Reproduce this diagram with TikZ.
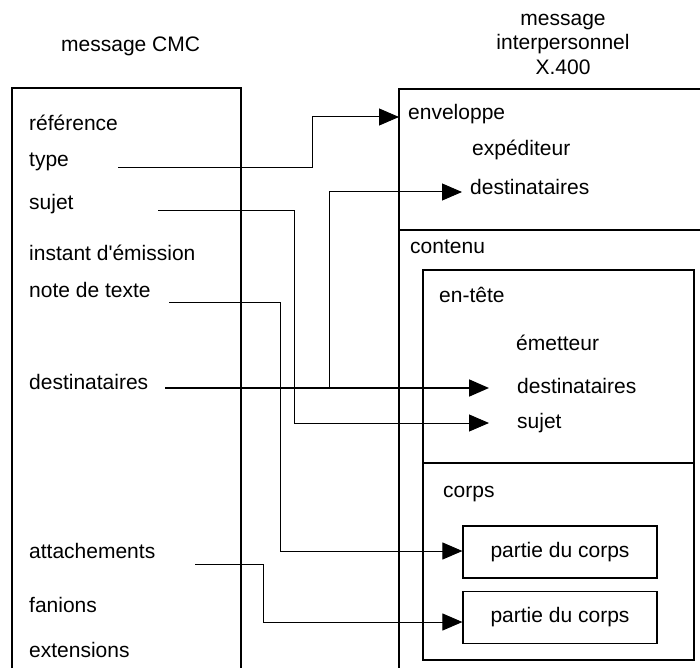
\documentclass[tikz,border=0pt]{standalone}
\usepackage{fontspec}
% a family without TeX input ligatures, so ' stays a straight apostrophe
\newfontfamily\labelfont{Liberation Sans}
\usetikzlibrary{arrows.meta}
\begin{document}
\begin{tikzpicture}[x=1pt,y=-1pt,
  txt/.style={font=\labelfont\fontsize{21}{24.5}\selectfont,inner sep=0pt},
  lbl/.style={txt,anchor=base west},
  hdr/.style={txt,anchor=base},
  frame/.style={line width=1.2pt},
  conn/.style={line width=1pt},
  thick conn/.style={line width=1.8pt},
  tip/.style={-{Triangle[length=20pt,width=17pt]}},
  part/.style={txt,draw,line width=1.2pt,minimum width=194pt,minimum height=52pt}]
\useasboundingbox (0,0) rectangle (700,668);

% headings
\node[lbl] (cmcTitle) at (61,52) {message CMC};
\node[hdr] (xA) at (563,26) {message};
\node[hdr] (xB) at (563,50) {interpersonnel};
\node[hdr] (xC) at (563,75) {X.400};

% CMC message frame
\draw[frame] (12,668) |- (241,88) -- (241,668);

% CMC fields
\node[lbl] (fRef)  at (29,131) {référence};
\node[lbl] (fType) at (29,167) {type};
\node[lbl] (fSuj)  at (29,209) {sujet};
\node[lbl] (fInst) at (29,260) {instant d'émission};
\node[lbl] (fNote) at (29,297) {note de texte};
\node[lbl] (fDest) at (29,389) {destinataires};
\node[lbl] (fAtt)  at (29,558) {attachements};
\node[lbl] (fFan)  at (29,612) {fanions};
\node[lbl] (fExt)  at (29,657) {extensions};

% X.400 message frame
\draw[frame] (700,89) -| (399,668);
\draw[frame] (399,230) -- (700,230);

\node[lbl] (env)    at (408,120) {enveloppe};
\node[lbl] (envExp) at (472,156) {expéditeur};
\node[lbl] (envDst) at (470,194) {destinataires};
\node[lbl] (cont)   at (410,253) {contenu};

% content: heading and body
\draw[frame] (423,270) rectangle (694,660);
\draw[frame] (423,463) -- (694,463);
\node[lbl] (hd)    at (439,302) {en-tête};
\node[lbl] (hdEm)  at (516,350) {émetteur};
\node[lbl] (hdDst) at (517,393) {destinataires};
\node[lbl] (hdSuj) at (517,428) {sujet};
\node[lbl] (body)  at (443,497) {corps};
\node[part] (part1) at (560,552) {partie du corps};
\node[part] (part2) at (560,617.5) {partie du corps};

% connector waypoints
\coordinate (typeS) at (118,168);
\coordinate (typeK) at (312,117);
\coordinate (envTip) at (399,117);
\coordinate (sujS) at (158,210);
\coordinate (sujK) at (294,423);
\coordinate (sujTip) at (489,423);
\coordinate (destS) at (165,388);
\coordinate (destTip) at (489,388);
\coordinate (envB) at (329,388);
\coordinate (envDTip) at (462,192);
\coordinate (noteS) at (169,302);
\coordinate (noteK) at (280,551);
\coordinate (attS) at (195,564);
\coordinate (attK) at (263,622);

% connectors
\draw[conn,tip] (typeS) -| (typeK) -- (envTip);
\draw[conn,tip] (sujS) -| (sujK) -- (sujTip);
\draw[thick conn,tip] (destS) -- (destTip);
\draw[conn,tip] (envB) |- (envDTip);
\draw[conn,tip] (noteS) -| (noteK) -- (noteK -| part1.west);
\draw[conn,tip] (attS) -| (attK) -- (attK -| part2.west);
\end{tikzpicture}
\end{document}
